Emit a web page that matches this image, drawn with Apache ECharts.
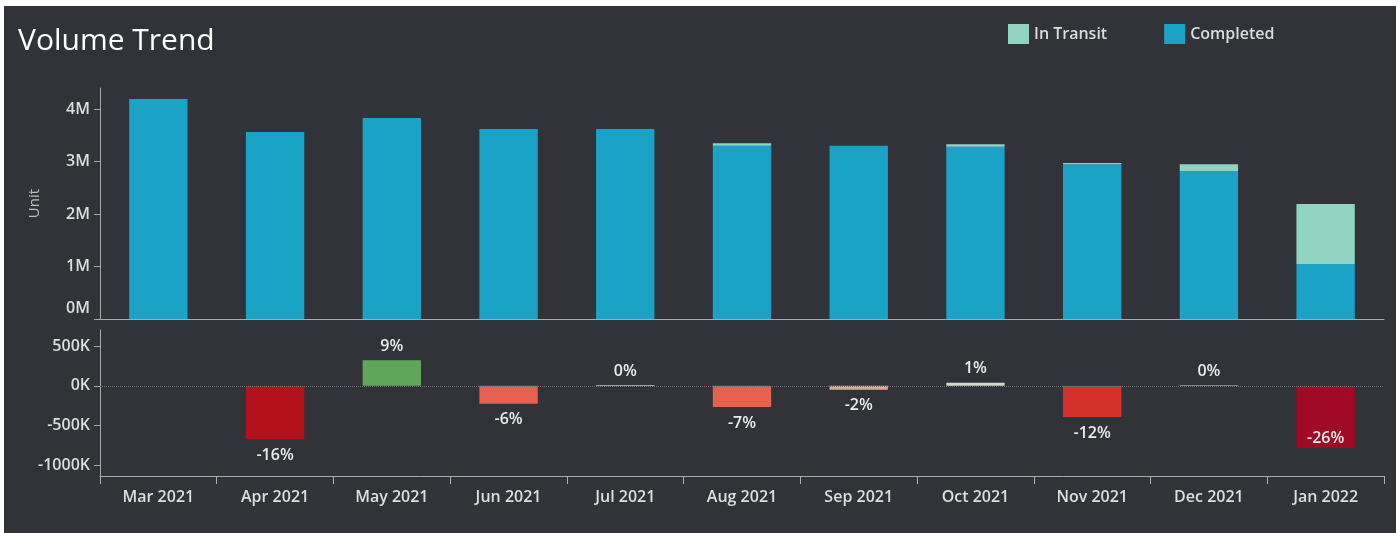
<!DOCTYPE html>
<html>
<head>
<meta charset="utf-8">
<script src="https://cdn.jsdelivr.net/npm/echarts@6/dist/echarts.min.js"></script>
<style>
  html, body { margin: 0; padding: 0; background: #ffffff; width: 1400px; height: 533px; overflow: hidden; }
  #chart { position: absolute; left: 4px; top: 6px; width: 1392px; height: 527px; }
</style>
</head>
<body>
<div id="chart"></div>
<script>
// ---- data ----
const months = ['Mar 2021','Apr 2021','May 2021','Jun 2021','Jul 2021','Aug 2021','Sep 2021','Oct 2021','Nov 2021','Dec 2021','Jan 2022'];
const completed = [4190000, 3560000, 3830000, 3620000, 3620000, 3300000, 3300000, 3280000, 2950000, 2820000, 1050000];
const inTransit = [0, 0, 0, 0, 0, 50000, 0, 50000, 20000, 130000, 1140000];
const diffValues = [null, -670000, 320000, -225000, 10000, -265000, -50000, 40000, -390000, 6000, -780000];
const diffPct = [null, -16, 9, -6, 0, -7, -2, 1, -12, 0, -26];
const volTicks = [0, 1000000, 2000000, 3000000, 4000000];
const diffTicks = [-1000000, -500000, 0, 500000];

// ---- style helpers ----
const FONT = "'Open Sans', 'Noto Sans', sans-serif";
function pctColor(p) {
  if (p <= -20) return '#a00a24';
  if (p <= -14) return '#b3111c';
  if (p <= -10) return '#d6302a';
  if (p <= -4) return '#e8614f';
  if (p <= -1.5) return '#e6a597';
  if (p < 0.5) return '#c9c9c9';
  if (p < 4) return '#d3d9cf';
  return '#5fa65a';
}
function fmtM(v) { return (v / 1e6).toFixed(0) + 'M'; }
function fmtK(v) { return (v / 1e3).toFixed(0) + 'K'; }

const diffData = diffValues.map(function (v, i) {
  if (v === null) return { value: null };
  const p = diffPct[i];
  const neg = v < 0;
  const big = p <= -20;
  return {
    value: v,
    itemStyle: { color: pctColor(p) },
    label: {
      show: true,
      formatter: p + '%',
      position: big ? 'insideBottom' : (neg ? 'bottom' : 'top'),
      distance: big ? 2 : (neg ? 8 : 6)
    }
  };
});

const axisLabelStyle = { color: '#dedede', fontSize: 16, fontWeight: 600, fontFamily: FONT };
const axisLineStyle = { show: true, onZero: false, lineStyle: { color: '#a9a9a9', width: 1 } };

const chart = echarts.init(document.getElementById('chart'));
chart.setOption({
  backgroundColor: '#313338',
  animation: false,
  title: {
    text: 'Volume Trend',
    left: 9,
    top: 15,
    textStyle: { color: '#ffffff', fontSize: 30, fontWeight: 'normal', fontFamily: FONT }
  },
  legend: {
    left: 999,
    top: 13,
    itemWidth: 21,
    itemHeight: 20,
    itemGap: 57,
    icon: 'rect',
    textStyle: { color: '#dcdcdc', fontSize: 16, fontFamily: FONT, fontWeight: 600 },
    data: ['In Transit', 'Completed']
  },
  grid: [
    { left: 96, right: 12, top: 82, height: 231 },
    { left: 96, right: 12, top: 324, height: 146 }
  ],
  xAxis: [
    {
      gridIndex: 0, type: 'category', data: months,
      axisLine: axisLineStyle, axisTick: { show: false }, axisLabel: { show: false }
    },
    {
      gridIndex: 1, type: 'category', data: months, position: 'bottom',
      boundaryGap: true,
      axisLine: axisLineStyle,
      axisTick: { show: true, inside: false, interval: 0, alignWithLabel: false, length: 8, lineStyle: { color: '#b0b0b0', width: 1 } },
      axisLabel: Object.assign({ margin: 13, interval: 0 }, axisLabelStyle)
    }
  ],
  yAxis: [
    {
      gridIndex: 0, type: 'value', min: 0, max: 4400000,
      name: 'Unit', nameLocation: 'middle', nameGap: 58,
      nameTextStyle: { color: '#bdbdbd', fontSize: 15, fontFamily: FONT },
      axisLine: { show: true, lineStyle: { color: '#a9a9a9' } },
      axisTick: { show: true, length: 6, customValues: volTicks, lineStyle: { color: '#a9a9a9' } },
      axisLabel: Object.assign({
        margin: 10, customValues: volTicks,
        formatter: function (v) { return v === 0 ? '{z|' + fmtM(v) + '}' : fmtM(v); },
        rich: { z: { color: '#dedede', fontSize: 16, fontWeight: 600, fontFamily: FONT, padding: [0, 0, 22, 0] } }
      }, axisLabelStyle),
      splitLine: { show: false }
    },
    {
      gridIndex: 1, type: 'value', min: -1130000, max: 700000,
      axisLine: { show: true, lineStyle: { color: '#a9a9a9' } },
      axisTick: { show: true, length: 6, customValues: diffTicks, lineStyle: { color: '#a9a9a9' } },
      axisLabel: Object.assign({ margin: 10, customValues: diffTicks, formatter: fmtK }, axisLabelStyle),
      splitLine: { show: false }
    }
  ],
  series: [
    {
      name: 'Completed', type: 'bar', stack: 'vol', xAxisIndex: 0, yAxisIndex: 0,
      barWidth: '50%', data: completed,
      itemStyle: { color: '#1aa3c6' }
    },
    {
      name: 'In Transit', type: 'bar', stack: 'vol', xAxisIndex: 0, yAxisIndex: 0,
      barWidth: '50%', data: inTransit,
      itemStyle: { color: '#90d3c0' }
    },
    {
      name: 'Diff', type: 'bar', xAxisIndex: 1, yAxisIndex: 1,
      barWidth: '50%', data: diffData,
      label: { color: '#ececec', fontSize: 16, fontWeight: 600, fontFamily: FONT },
      markLine: {
        silent: true, symbol: 'none', label: { show: false },
        lineStyle: { color: '#6b6d71', type: 'dotted', width: 1 },
        data: [{ yAxis: 0 }]
      }
    }
  ]
});
</script>
</body>
</html>
